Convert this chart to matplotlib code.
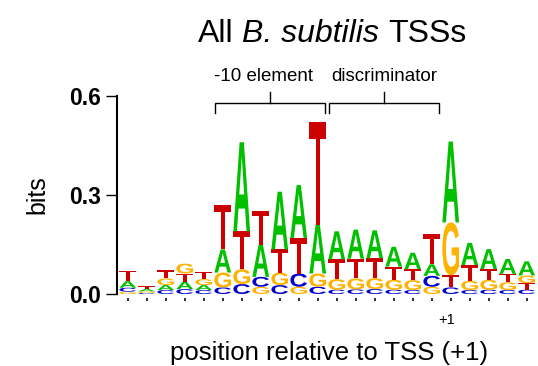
import matplotlib
matplotlib.use('Agg')
import matplotlib.pyplot as plt
from matplotlib.textpath import TextPath
from matplotlib.font_manager import FontProperties
from matplotlib.patches import PathPatch
from matplotlib.transforms import Affine2D

plt.rcParams['font.family'] = ['Liberation Sans', 'DejaVu Sans']

# ---- data (bits per base, positions -17 .. -1, +1 .. +5 relative to TSS) ----
positions = list(range(-17, 0)) + list(range(1, 6))
bits_A = [0.020, 0.007, 0.015, 0.022, 0.015, 0.070, 0.270, 0.098, 0.175, 0.160, 0.148,
          0.085, 0.088, 0.085, 0.060, 0.050, 0.035, 0.245, 0.067, 0.060, 0.045, 0.043]
bits_C = [0.012, 0.003, 0.012, 0.015, 0.012, 0.020, 0.030, 0.030, 0.027, 0.040, 0.022,
          0.013, 0.014, 0.015, 0.013, 0.012, 0.033, 0.020, 0.012, 0.013, 0.012, 0.013]
bits_G = [0.007, 0.005, 0.020, 0.030, 0.018, 0.045, 0.045, 0.022, 0.038, 0.022, 0.040,
          0.032, 0.033, 0.033, 0.030, 0.030, 0.022, 0.160, 0.028, 0.030, 0.024, 0.023]
bits_T = [0.032, 0.008, 0.025, 0.025, 0.022, 0.135, 0.115, 0.102, 0.070, 0.108, 0.310,
          0.060, 0.060, 0.060, 0.040, 0.033, 0.092, 0.037, 0.048, 0.033, 0.025, 0.020]
yticks = [0.0, 0.3, 0.6]
ytick_labels = ['0.0', '0.3', '0.6']
regions = [('-10 element', -12, -7), ('discriminator', -6, -1)]

colors = {'A': '#00c000', 'C': '#0000cc', 'G': '#ffb300', 'T': '#cc0000'}

W, H, DPI = 538, 366, 100
fig = plt.figure(figsize=(W / DPI, H / DPI), dpi=DPI)
ax = fig.add_axes([117.3 / W, (H - 294) / H, (536.2 - 117.3) / W, 198 / H])

fp = FontProperties(family='Liberation Sans', weight='bold')
glyphs = {b: TextPath((0, 0), b, size=1, prop=fp) for b in 'ACGT'}

width = 0.88
for i, pos in enumerate(positions):
    stack = sorted([('A', bits_A[i]), ('C', bits_C[i]), ('G', bits_G[i]), ('T', bits_T[i])],
                   key=lambda t: t[1])
    y0 = 0.0
    for b, h in stack:
        tp = glyphs[b]
        ext = tp.get_extents()
        tr = (Affine2D().translate(-ext.x0, -ext.y0)
              .scale(width / ext.width, h / ext.height)
              .translate(i - width / 2, y0))
        patch = PathPatch(tr.transform_path(tp), facecolor=colors[b], edgecolor='none',
                          transform=ax.transData, clip_on=False)
        ax.add_patch(patch)
        y0 += h

n = len(positions)
ax.set_xlim(-0.55, n - 0.5)
ax.set_ylim(0, 0.6)
ax.set_yticks(yticks)
ax.set_yticklabels(ytick_labels, fontweight='bold', fontsize=16.5)
ax.set_xticks(range(n))
ax.set_xticklabels([''] * n)
for s in ['top', 'right']:
    ax.spines[s].set_visible(False)
ax.spines['bottom'].set_visible(False)
ax.spines['bottom'].set_position(('outward', 3))
ax.spines['left'].set_linewidth(1.5)
ax.tick_params(axis='y', length=8, width=1.0, pad=3.5)
ax.tick_params(axis='x', length=2.3, width=1.3, color='#222222')

# +1 label
ax.text(positions.index(1) - 0.2, -0.079, '+1', ha='center', va='center', fontsize=10.5)

# region brackets
for label, p0, p1 in regions:
    a = positions.index(p0) - 0.4
    b = positions.index(p1) + 0.4
    c = (a + b) / 2
    ax.plot([a, a, b, b], [0.5476, 0.58, 0.58, 0.5476], color='black', lw=1.0,
            clip_on=False, solid_joinstyle='miter')
    ax.plot([c, c], [0.58, 0.613], color='black', lw=1.0, clip_on=False)
    ax.text(c - (0.35 if label.startswith('-') else 0.0), 0.645, label,
            ha='center', va='baseline', fontsize=13.5)

# title with italic species name, pieces laid out side by side
title_parts = [('All', 'normal'), ('B. subtilis', 'italic'), ('TSSs', 'normal')]
tsize = 23
renderer = fig.canvas.get_renderer()
space = 0.278 * tsize * DPI / 72
texts = []
for s, st in title_parts:
    t = fig.text(0, 1 - 42 / H, s, ha='left', va='baseline', fontsize=tsize, style=st)
    texts.append(t)
widths = [t.get_window_extent(renderer).width for t in texts]
total = sum(widths) + space * (len(texts) - 1)
x = 332 - total / 2
for t, w in zip(texts, widths):
    t.set_x(x / W)
    x += w + space

fig.text(329 / W, 6 / H, 'position relative to TSS (+1)', ha='center',
         va='baseline', fontsize=18.5)
fig.text(37 / W, 1 - 195 / H, 'bits', ha='center', va='center', rotation=90,
         fontsize=18)

fig.savefig('out.png', dpi=DPI)
